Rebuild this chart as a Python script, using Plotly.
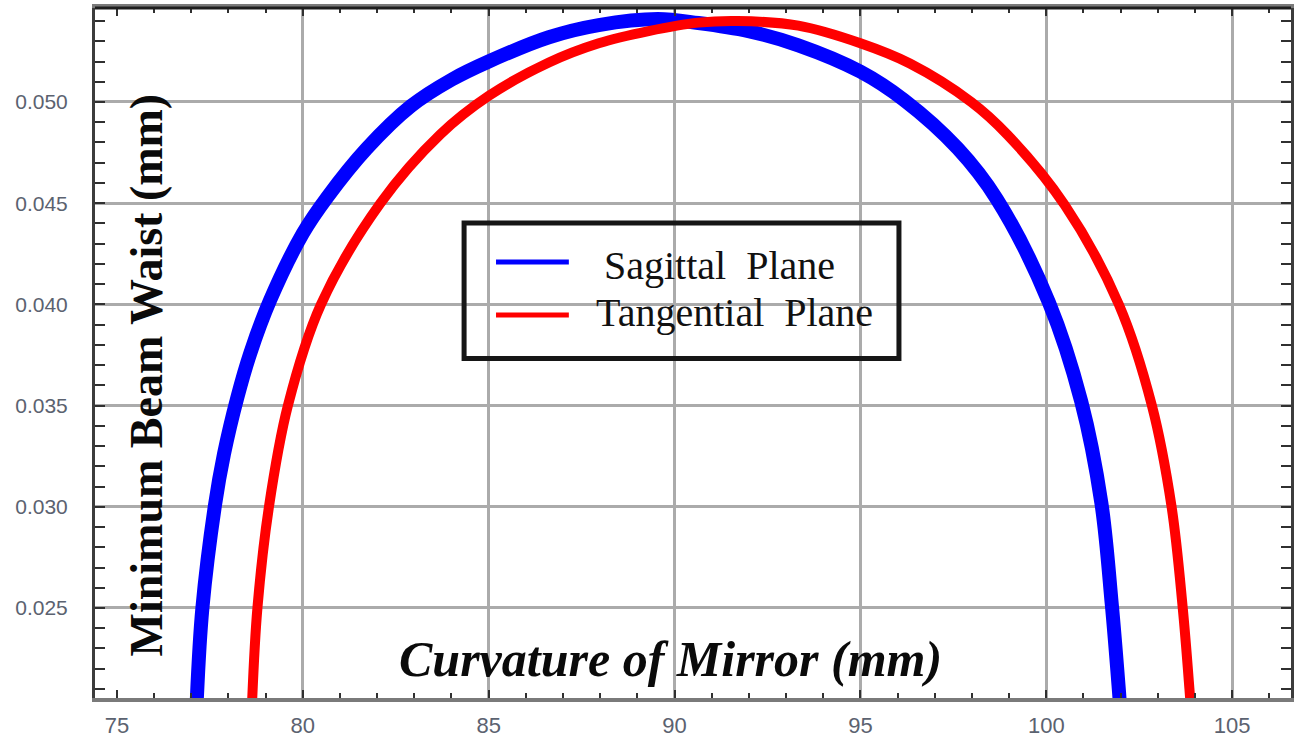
import plotly.graph_objects as go

# Curvature of mirror (mm) vs. minimum beam waist (mm), sagittal plane
sag_x = [77.15, 77.30, 77.64, 77.88, 78.24, 78.59, 79.12, 80.00, 80.66, 81.72,
         82.91, 84.00, 85.00, 86.62, 87.96, 89.55, 90.64, 91.99, 93.33, 95.00,
         96.17, 97.62, 98.67, 100.07, 100.94, 101.48, 101.76, 101.95, 101.97]
sag_y = [0.0205, 0.0250, 0.0301, 0.0326, 0.0354, 0.0376, 0.0402, 0.0435, 0.0453,
         0.0477, 0.0498, 0.0511, 0.0520, 0.0532, 0.0538, 0.0541, 0.0539, 0.0535,
         0.0528, 0.0515, 0.0501, 0.0477, 0.0452, 0.0401, 0.0352, 0.0302, 0.0252,
         0.0210, 0.0205]

# Tangential plane
tan_x = [78.64, 78.78, 79.09, 79.60, 80.49, 82.09, 83.70, 85.00, 86.62, 87.96,
         89.30, 90.64, 91.70, 93.33, 95.00, 96.33, 97.98, 98.96, 100.50, 101.95,
         102.84, 103.37, 103.67, 103.85, 103.87]
tan_y = [0.0205, 0.0250, 0.0300, 0.0350, 0.0400, 0.0450, 0.0484, 0.0503, 0.05195,
         0.0529, 0.0535, 0.05392, 0.0540, 0.05377, 0.0529, 0.0519, 0.0500, 0.04837,
         0.0449, 0.0400, 0.0350, 0.0300, 0.0250, 0.0210, 0.0205]

x_ticks = [75, 80, 85, 90, 95, 100, 105]
x_tick_labels = ["75", "80", "85", "90", "95", "100", "105"]
x_grid = [80, 85, 90, 95, 100, 105]
y_ticks = [0.025, 0.030, 0.035, 0.040, 0.045, 0.050]
y_tick_labels = ["0.025", "0.030", "0.035", "0.040", "0.045", "0.050"]

series_names = ["Sagittal\u00a0\u00a0Plane", "Tangential\u00a0\u00a0Plane"]
series_colors = ["#0000ff", "#ff0000"]

X_RANGE = [74.411, 106.582]
Y_RANGE = [0.020553, 0.054644]

GRID = "#ababab"
TICK = "#303030"
LABEL = "#5b6270"
SERIF = "Liberation Serif, Times New Roman, serif"

fig = go.Figure()
fig.add_trace(go.Scatter(
    x=sag_x, y=sag_y, mode="lines", name="Sagittal Plane", showlegend=False,
    line=dict(color=series_colors[0], width=14, shape="spline", smoothing=1.0),
))
fig.add_trace(go.Scatter(
    x=tan_x, y=tan_y, mode="lines", name="Tangential Plane", showlegend=False,
    line=dict(color=series_colors[1], width=10, shape="spline", smoothing=1.0),
))
# empty trace that carries the overlay axis used for the vertical grid
fig.add_trace(go.Scatter(x=[None], y=[None], xaxis="x2", showlegend=False,
                         hoverinfo="skip"))

fig.update_layout(
    width=1297, height=742,
    margin=dict(l=95, r=3, t=8, b=44),
    paper_bgcolor="white", plot_bgcolor="white",
    xaxis=dict(
        range=X_RANGE, tickmode="array", tickvals=x_ticks, ticktext=x_tick_labels,
        ticks="inside", ticklen=8, tickwidth=2, tickcolor=TICK,
        showgrid=False, zeroline=False,
        showline=True, linecolor="#7a7a7a", linewidth=4, mirror="allticks",
        tickfont=dict(family="Liberation Sans, Arial, sans-serif", size=22, color=LABEL),
        ticklabelstandoff=5,
        minor=dict(dtick=1, tick0=75, ticks="inside", ticklen=5, tickwidth=2,
                   tickcolor=TICK, showgrid=False),
    ),
    xaxis2=dict(
        range=X_RANGE, overlaying="x", anchor="y", tickmode="array", tickvals=x_grid,
        showticklabels=False, ticks="", showline=False, zeroline=False,
        showgrid=True, gridcolor=GRID, gridwidth=3,
    ),
    yaxis=dict(
        range=Y_RANGE, tickmode="array", tickvals=y_ticks, ticktext=y_tick_labels,
        ticks="inside", ticklen=10, tickwidth=2, tickcolor=TICK,
        showgrid=True, gridcolor=GRID, gridwidth=3, zeroline=False,
        showline=True, linecolor="#3c3c3c", linewidth=3, mirror="allticks",
        tickfont=dict(family="Liberation Sans, Arial, sans-serif", size=21, color=LABEL),
        ticklabelstandoff=20,
        minor=dict(dtick=0.001, tick0=0.025, ticks="inside", ticklen=5, tickwidth=2,
                   tickcolor=TICK, showgrid=False),
    ),
)

shapes = [
    # darker top edge of the frame
    dict(type="line", xref="paper", yref="paper", x0=0, x1=1, y0=1, y1=1,
         line=dict(color="#1e1e1e", width=3)),
    # legend frame
    dict(type="rect", xref="paper", yref="paper", x0=0.3086, x1=0.6722,
         y0=0.4920, y1=0.6884, line=dict(color="#161616", width=5),
         fillcolor="rgba(0,0,0,0)"),
    # legend line samples
    dict(type="line", xref="paper", yref="paper", x0=0.3353, x1=0.3962,
         y0=0.6319, y1=0.6319, line=dict(color=series_colors[0], width=5)),
    dict(type="line", xref="paper", yref="paper", x0=0.3353, x1=0.3962,
         y0=0.5551, y1=0.5551, line=dict(color=series_colors[1], width=5)),
]
fig.update_layout(shapes=shapes)

annotations = [
    dict(text=series_names[0], xref="paper", yref="paper", x=0.4237, y=0.6275,
         xanchor="left", yanchor="middle", showarrow=False,
         font=dict(family=SERIF, size=40, color="#111111")),
    dict(text=series_names[1], xref="paper", yref="paper", x=0.4170, y=0.5594,
         xanchor="left", yanchor="middle", showarrow=False,
         font=dict(family=SERIF, size=40, color="#111111")),
    dict(text="<b><i>Curvature of Mirror (mm)</i></b>", xref="paper", yref="paper",
         x=0.4812, y=0.0565, xanchor="center", yanchor="middle", showarrow=False,
         font=dict(family=SERIF, size=50, color="#0a0a0a")),
    dict(text="<b>Minimum Beam Waist (mm)</b>", xref="paper", yref="paper",
         x=0.0430, y=0.4681, xanchor="center", yanchor="middle", showarrow=False,
         textangle=-90, font=dict(family=SERIF, size=46, color="#0a0a0a")),
]
fig.update_layout(annotations=annotations)

fig.write_html("out.html")
